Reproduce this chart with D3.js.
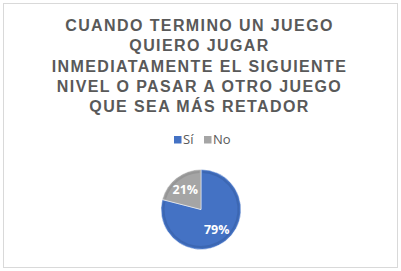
<!DOCTYPE html>
<html><head><meta charset="utf-8">
<script src="https://cdn.jsdelivr.net/npm/d3@7"></script>
<style>html,body{margin:0;padding:0;background:#fff;}</style>
</head><body>
<script>
const categories = ["Sí", "No"];
const values = [79, 21];
const colors = ["#4472C4", "#A5A5A5"];
const darkColors = ["#3B64AE", "#929292"];
const titleLines = ["CUANDO TERMINO UN JUEGO", "QUIERO JUGAR", "INMEDIATAMENTE EL SIGUIENTE", "NIVEL O PASAR A OTRO JUEGO", "QUE SEA MÁS RETADOR"];

const W = 401, H = 271;
const svg = d3.select("body").append("svg").attr("width", W).attr("height", H);
svg.append("rect").attr("x", 3.5).attr("y", 3.5).attr("width", 394).attr("height", 264)
  .attr("fill", "#fff").attr("stroke", "#d9d9d9").attr("stroke-width", 1);

svg.append("g").selectAll("text").data(titleLines).join("text")
  .attr("x", 199.5).attr("y", (d, i) => 31 + i * 20.3)
  .attr("text-anchor", "middle")
  .attr("font-family", "Liberation Sans, Arial, sans-serif")
  .attr("font-weight", "bold").attr("font-size", 16)
  .attr("letter-spacing", 1.4)
  .attr("fill", "#595959").text(d => d);

// legend
const legX = [174, 204];
const leg = svg.append("g").selectAll("g").data(categories).join("g")
  .attr("transform", (d, i) => `translate(${legX[i]},136)`);
leg.append("rect").attr("width", 7.5).attr("height", 7.5).attr("fill", (d, i) => colors[i]);
leg.append("text").attr("x", 9).attr("y", 8)
  .attr("font-family", "Open Sans, Noto Sans, sans-serif").attr("font-size", 13)
  .attr("fill", "#595959").text(d => d);

// pie
const cx = 201, cy = 209.5, r = 40;
const pie = d3.pie().sort(null)(values);
const arc = d3.arc().innerRadius(0).outerRadius(r);
const g = svg.append("g").attr("transform", `translate(${cx},${cy})`);
g.selectAll("path.s").data(pie).join("path").attr("class", "s")
  .attr("d", arc).attr("fill", (d, i) => colors[i])
  .attr("stroke", "#fff").attr("stroke-width", 0.5);
const innerArc = d3.arc().innerRadius(r - 3.5).outerRadius(r - 1.5);
g.selectAll("path.b").data(pie).join("path").attr("class", "b")
  .attr("d", d => innerArc({startAngle: d.startAngle + 0.04, endAngle: d.endAngle - 0.04}))
  .attr("fill", (d, i) => darkColors[i]).attr("opacity", 0.8);

const labelArc = d3.arc().innerRadius(r * 0.64).outerRadius(r * 0.64);
g.selectAll("text").data(pie).join("text")
  .attr("transform", d => `translate(${labelArc.centroid(d)})`)
  .attr("text-anchor", "middle").attr("dy", "0.36em")
  .attr("font-family", "Open Sans, Noto Sans, sans-serif").attr("font-weight", "bold")
  .attr("font-size", 12.5).attr("fill", "#fff")
  .text(d => d.data + "%");
</script>
</body></html>
